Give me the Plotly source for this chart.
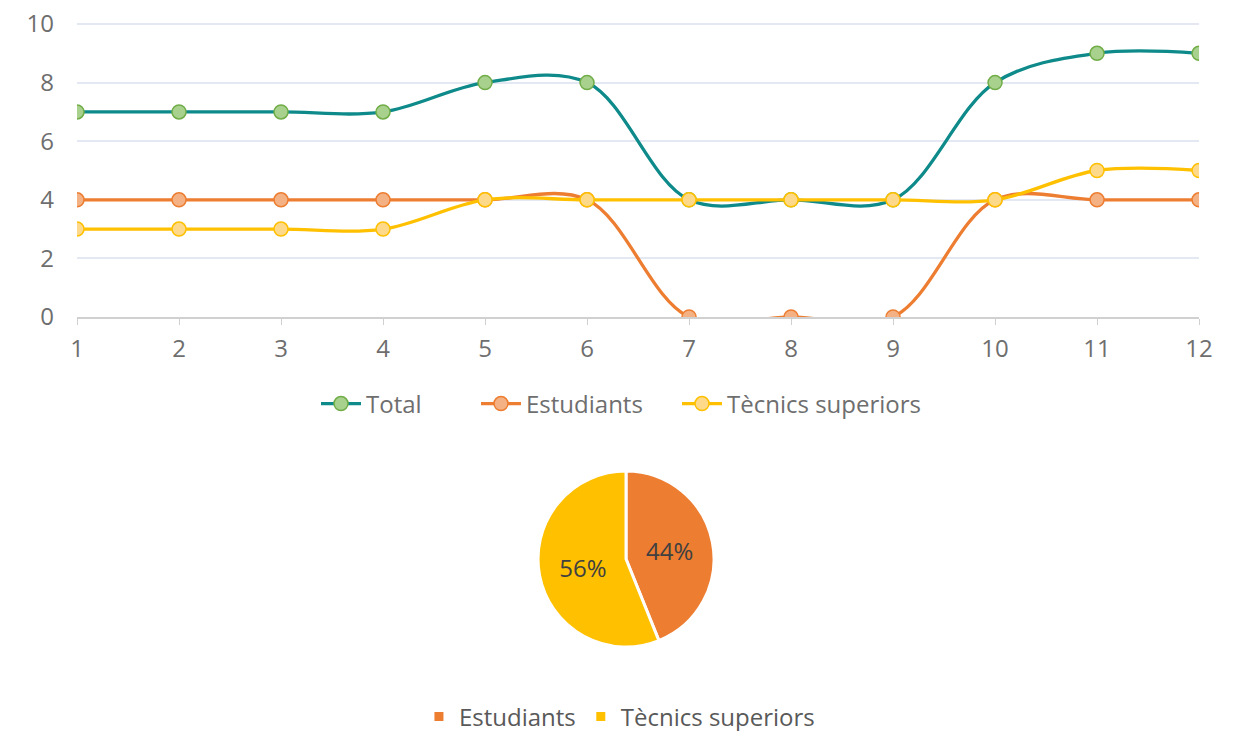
import plotly.graph_objects as go

months = [1, 2, 3, 4, 5, 6, 7, 8, 9, 10, 11, 12]
total = [7, 7, 7, 7, 8, 8, 4, 4, 4, 8, 9, 9]
estudiants = [4, 4, 4, 4, 4, 4, 0, 0, 0, 4, 4, 4]
tecnics = [3, 3, 3, 3, 4, 4, 4, 4, 4, 4, 5, 5]
y_ticks = [0, 2, 4, 6, 8, 10]
pie_labels = ["Estudiants", "Tècnics superiors"]
pie_values = [sum(estudiants), sum(tecnics)]

FONT = "Open Sans"
FS = 24
fig = go.Figure()

series = [
    ("Total", total, "#0e8a8a", "#a9d18e", "#70ad47", "legend"),
    ("Estudiants", estudiants, "#ed7d31", "#f4b183", "#ed7d31", "legend3"),
    ("Tècnics superiors", tecnics, "#ffc000", "#ffd98a", "#ffc000", "legend4"),
]
for name, vals, lc, mf, mb, lg in series:
    fig.add_trace(go.Scatter(
        x=months, y=vals, name=name, mode="lines+markers",
        line=dict(color=lc, width=3.3, shape="spline", smoothing=1),
        marker=dict(size=14, color=mf, line=dict(color=mb, width=1.5)),
        cliponaxis=True, legend=lg,
    ))

fig.add_trace(go.Pie(
    labels=pie_labels, values=pie_values, sort=False, direction="clockwise",
    rotation=0, marker=dict(colors=["#ed7d31", "#ffc000"], line=dict(color="white", width=3)),
    texttemplate="%{percent:.0%}", textposition="inside", insidetextorientation="horizontal",
    textfont=dict(family=FONT, size=FS, color="#404040"),
    domain=dict(x=[0.3958, 0.6018], y=[0.1259, 0.3666]), legend="legend2",
    hoverinfo="label+value+percent",
))

leg_common = dict(orientation="h", y=0.4583, yanchor="middle", xanchor="left",
                  font=dict(size=FS, color="#6e6e6e"), itemwidth=40)

fig.update_layout(
    width=1239, height=731,
    margin=dict(l=0, r=0, t=0, b=0, autoexpand=False),
    paper_bgcolor="white", plot_bgcolor="white",
    font=dict(family=FONT, color="#6e6e6e", size=FS),
    xaxis=dict(domain=[0.0557, 0.9613], range=[1, 12], tickvals=months,
               showgrid=False, showline=True, linecolor="#d0d0d0", linewidth=1.5,
               ticks="outside", tickcolor="#d0d0d0", ticklen=6, zeroline=False,
               ticklabelstandoff=3,
               tickfont=dict(size=FS, color="#6e6e6e")),
    yaxis=dict(domain=[0.5773, 0.9781 + 0.5 * 0.4008 / 10], range=[0, 10.5], tickvals=y_ticks,
               showgrid=True, gridcolor="#e3e8f3", gridwidth=1.5, zeroline=False,
               showline=False, ticks="", ticklabelstandoff=22, ticklabeloverflow="allow",
               tickfont=dict(size=FS, color="#6e6e6e")),
    legend=dict(x=(316 - 8) / 1239, **leg_common),
    legend3=dict(x=(476 - 8) / 1239, **leg_common),
    legend4=dict(x=(677 - 8) / 1239, **leg_common),
    legend2=dict(orientation="h", x=0.4935, xanchor="center", y=0.0301, yanchor="middle",
                 font=dict(size=FS, color="#595959")),
    showlegend=True,
)

fig.write_html("out.html")
